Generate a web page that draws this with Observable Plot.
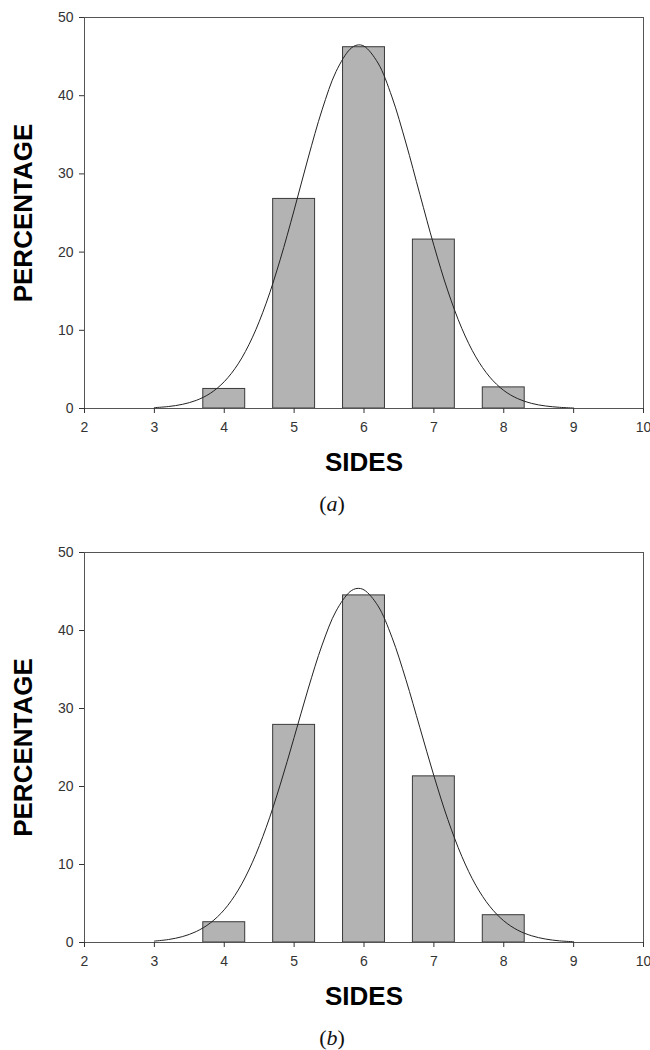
<!DOCTYPE html>
<html>
<head>
<meta charset="utf-8">
<script src="https://cdn.jsdelivr.net/npm/d3@7"></script>
<script src="https://cdn.jsdelivr.net/npm/@observablehq/plot@0.6"></script>
<style>
  html, body { margin: 0; padding: 0; background: #fff; }
  .panel { position: relative; width: 650px; height: 525px; overflow: hidden; }
  .panel svg { display: block; }
  .cap { position: absolute; left: 332px; transform: translate(-50%, -50%); font-family: "Liberation Serif", "DejaVu Serif", serif; font-size: 22px; color: #111; white-space: nowrap; }
</style>
</head>
<body>
<div class="panel" id="pa"><div class="cap" style="top:504px">(<i>a</i>)</div></div>
<div class="panel" id="pb"><div class="cap" style="top:513px">(<i>b</i>)</div></div>
<script>
// Categories (number of sides) and bar percentages
const sides = [4, 5, 6, 7, 8];
const pctA = [2.5, 26.8, 46.2, 21.6, 2.7];
const pctB = [2.6, 27.9, 44.5, 21.3, 3.5];

// Fitted curve points
const curveX = [3, 3.2, 3.4, 3.6, 3.8, 4, 4.2, 4.4, 4.6, 4.8, 5, 5.2, 5.4, 5.6, 5.8, 5.9, 6, 6.2, 6.4, 6.6, 6.8, 7, 7.2, 7.4, 7.6, 7.8, 8, 8.2, 8.4, 8.6, 8.8, 9];
const fitA = [0.11, 0.25, 0.53, 1.04, 1.94, 3.43, 5.72, 9.03, 13.47, 19.02, 25.37, 32.02, 38.19, 43.09, 45.95, 46.47, 46.34, 44.18, 39.84, 33.95, 27.37, 20.86, 15.03, 10.24, 6.6, 4.02, 2.31, 1.26, 0.65, 0.32, 0.15, 0.06];
const fitB = [0.18, 0.38, 0.75, 1.41, 2.5, 4.2, 6.72, 10.22, 14.75, 20.2, 26.29, 32.49, 38.13, 42.49, 44.98, 45.39, 45.21, 43.16, 39.13, 33.69, 27.54, 21.38, 15.76, 11.04, 7.34, 4.64, 2.78, 1.58, 0.86, 0.44, 0.21, 0.1];

// Axis ticks and labels
const xTicks = [2, 3, 4, 5, 6, 7, 8, 9, 10];
const yTicks = [0, 10, 20, 30, 40, 50];
const xLabel = "SIDES";
const yLabel = "PERCENTAGE";

function panel(pcts, fit, marginTop, marginBottom, labelDy) {
  const bars = sides.map((s, i) => ({x: s, y: pcts[i]}));
  const line = curveX.map((x, i) => ({x, y: fit[i]}));
  return Plot.plot({
    width: 650,
    height: 525,
    marginLeft: 84,
    marginRight: 7,
    marginTop,
    marginBottom,
    x: {domain: [2, 10]},
    y: {domain: [0, 50]},
    style: {fontFamily: "'Liberation Sans', Arial, sans-serif", fontSize: "14px", color: "#333", background: "#fff"},
    marks: [
      Plot.rectY(bars, {x1: d => d.x - 0.3, x2: d => d.x + 0.3, y: "y", fill: "#b3b3b3", stroke: "#3a3a3a", strokeWidth: 1}),
      Plot.line(line, {x: "x", y: "y", curve: "catmull-rom", stroke: "#222", strokeWidth: 1}),
      Plot.frame({stroke: "#555", strokeWidth: 1}),
      Plot.axisX({ticks: xTicks, tickSize: 5, tickPadding: 9, label: null, stroke: "#333"}),
      Plot.axisY({ticks: yTicks, tickSize: 5, tickPadding: 6, label: null, stroke: "#333"}),
      Plot.text([xLabel], {frameAnchor: "bottom", dy: labelDy, fontSize: 26, fontWeight: "bold", fill: "#000", fontFamily: "'Liberation Sans', Arial, sans-serif"}),
      Plot.text([yLabel], {frameAnchor: "left", textAnchor: "middle", dx: -61, rotate: -90, fontSize: 26, fontWeight: "bold", fill: "#000", fontFamily: "'Liberation Sans', Arial, sans-serif"})
    ]
  });
}

document.getElementById("pa").prepend(panel(pctA, fitA, 17, 117, 62));
document.getElementById("pb").prepend(panel(pctB, fitB, 27, 108, 62));
</script>
</body>
</html>
